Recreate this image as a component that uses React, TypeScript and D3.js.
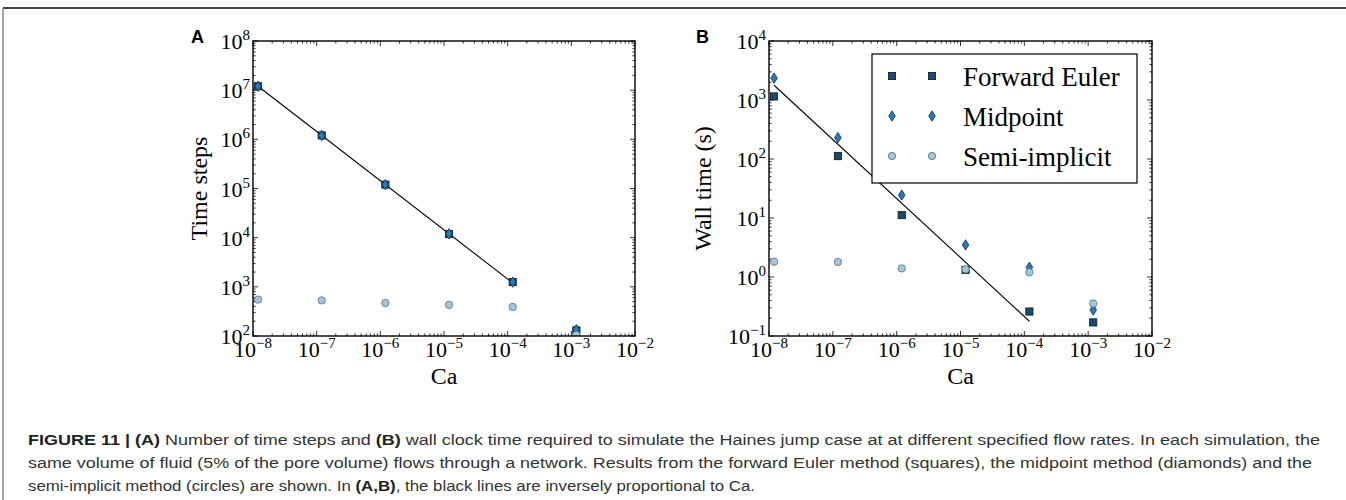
import React from "react";
import * as d3 from "d3";

// ---------------- data ----------------
const caValues = [1.2e-8, 1.2e-7, 1.2e-6, 1.2e-5, 1.2e-4, 1.2e-3];

// Panel A: time steps
const eulerStepsA = [1.2e7, 1.2e6, 1.2e5, 1.18e4, 1.25e3, 130];
const midpointStepsA = [1.2e7, 1.2e6, 1.2e5, 1.2e4, 1.25e3, 135];
const semiStepsA = [550, 530, 470, 430, 390, 105];

// Panel B: wall time (s)
const eulerTimeB = [1150, 112, 11.2, 1.32, 0.26, 0.17];
const midpointTimeB = [2350, 230, 24.5, 3.5, 1.46, 0.275];
const semiTimeB = [1.82, 1.8, 1.4, 1.35, 1.2, 0.355];

// Reference lines (inversely proportional to Ca)
const refLineCa = [1.2e-8, 1.2e-4];
const refLineA = [1.2e7, 1.2e3];
const refLineB = [1780, 0.178];

const xDomain = [1e-8, 1e-2];
const yDomainA = [1e2, 1e8];
const yDomainB = [1e-1, 1e4];

const legendLabels = ["Forward Euler", "Midpoint", "Semi-implicit"];

const captionLines: { text: string; bold: boolean }[][] = [
  [
    { text: "FIGURE 11 | (A)", bold: true },
    { text: " Number of time steps and ", bold: false },
    { text: "(B)", bold: true },
    {
      text:
        " wall clock time required to simulate the Haines jump case at at different specified flow rates. In each simulation, the",
      bold: false,
    },
  ],
  [
    {
      text:
        "same volume of fluid (5% of the pore volume) flows through a network. Results from the forward Euler method (squares), the midpoint method (diamonds) and the",
      bold: false,
    },
  ],
  [
    { text: "semi-implicit method (circles) are shown. In ", bold: false },
    { text: "(A,B)", bold: true },
    { text: ", the black lines are inversely proportional to Ca.", bold: false },
  ],
];

// ---------------- style ----------------
const COL_EULER = "#1b4a6b";
const COL_MID = "#2a7ab8";
const COL_SEMI = "#a3c6df";
const SERIF = "'Liberation Serif', 'Times New Roman', serif";
const SANS = "'Liberation Sans', Arial, sans-serif";

type Marker = "square" | "diamond" | "circle";

function MarkerShape({ kind, x, y }: { kind: Marker; x: number; y: number }) {
  if (kind === "square") {
    return (
      <rect x={x - 3.6} y={y - 3.6} width={7.2} height={7.2} fill={COL_EULER} stroke="#0a1a26" strokeWidth={0.8} />
    );
  }
  if (kind === "diamond") {
    const w = 3.3;
    const h = 5.2;
    return (
      <path
        d={`M${x},${y - h}L${x + w},${y}L${x},${y + h}L${x - w},${y}Z`}
        fill={COL_MID}
        stroke="#0d2e48"
        strokeWidth={0.8}
      />
    );
  }
  return <circle cx={x} cy={y} r={3.7} fill={COL_SEMI} stroke="#5a6f80" strokeWidth={0.8} />;
}

function supLabel(v: number) {
  const e = Math.round(Math.log10(v));
  return e < 0 ? "\u2212" + Math.abs(e) : String(e);
}

interface PanelProps {
  id: string;
  letter: string;
  left: number;
  right: number;
  top: number;
  bottom: number;
  yDomain: number[];
  series: { kind: Marker; values: number[] }[];
  refVals: number[];
  yTitle: string;
  yTitleX: number;
  letterX: number;
  legend?: boolean;
}

function Panel(p: PanelProps) {
  const x = d3.scaleLog().domain(xDomain).range([p.left, p.right]);
  const y = d3.scaleLog().domain(p.yDomain).range([p.bottom, p.top]);
  const isMajor = (v: number) => Math.abs(Math.log10(v) - Math.round(Math.log10(v))) < 1e-6;
  const xt = x.ticks();
  const yt = y.ticks();
  const MAJ = 5;
  const MIN = 2.6;
  const line = d3
    .line<number>()
    .x((_, i) => x(refLineCa[i]))
    .y((d) => y(d));
  const clipId = "clip-" + p.id;
  return (
    <g>
      <defs>
        <clipPath id={clipId}>
          <rect x={p.left} y={p.top} width={p.right - p.left} height={p.bottom - p.top} />
        </clipPath>
      </defs>
      {/* ticks */}
      {xt.map((v, i) => {
        const L = isMajor(v) ? MAJ : MIN;
        const xx = x(v);
        return (
          <g key={"xt" + i} stroke="#000" strokeWidth={0.8}>
            <line x1={xx} x2={xx} y1={p.bottom} y2={p.bottom - L} />
            <line x1={xx} x2={xx} y1={p.top} y2={p.top + L} />
          </g>
        );
      })}
      {yt.map((v, i) => {
        const L = isMajor(v) ? MAJ : MIN;
        const yy = y(v);
        return (
          <g key={"yt" + i} stroke="#000" strokeWidth={0.8}>
            <line x1={p.left} x2={p.left + L} y1={yy} y2={yy} />
            <line x1={p.right} x2={p.right - L} y1={yy} y2={yy} />
          </g>
        );
      })}
      {/* reference line */}
      <path d={line(p.refVals) || ""} fill="none" stroke="#000" strokeWidth={1.1} />
      {/* markers */}
      <g clipPath={`url(#${clipId})`}>
        {p.series.map((s, si) =>
          s.values.map((v, i) => <MarkerShape key={si + "-" + i} kind={s.kind} x={x(caValues[i])} y={y(v)} />)
        )}
      </g>
      {/* frame */}
      <rect
        x={p.left}
        y={p.top}
        width={p.right - p.left}
        height={p.bottom - p.top}
        fill="none"
        stroke="#000"
        strokeWidth={1.4}
      />
      {/* tick labels */}
      {xt.filter(isMajor).map((v, i) => (
        <text key={"xl" + i} x={x(v)} y={p.bottom + 21} textAnchor="middle" fontFamily={SERIF} fontSize={22}>
          10
          <tspan dy={-9} fontSize={15}>
            {supLabel(v)}
          </tspan>
        </text>
      ))}
      {yt.filter(isMajor).map((v, i) => (
        <text key={"yl" + i} x={p.left - 3} y={y(v) + 8} textAnchor="end" fontFamily={SERIF} fontSize={22}>
          10
          <tspan dy={-9} fontSize={15}>
            {supLabel(v)}
          </tspan>
        </text>
      ))}
      {/* axis titles */}
      <text x={(p.left + p.right) / 2} y={384} textAnchor="middle" fontFamily={SERIF} fontSize={24}>
        Ca
      </text>
      <text
        transform={`translate(${p.yTitleX},${(p.top + p.bottom) / 2}) rotate(-90)`}
        textAnchor="middle"
        fontFamily={SERIF}
        fontSize={24}
      >
        {p.yTitle}
      </text>
      <text x={p.letterX} y={43} fontFamily={SANS} fontWeight="bold" fontSize={18}>
        {p.letter}
      </text>
      {p.legend && (
        <g>
          <rect x={872} y={54} width={265} height={129} fill="#fff" stroke="#000" strokeWidth={1.2} />
          {p.series.map((s, i) => {
            const cy = 76 + i * 40;
            return (
              <g key={"lg" + i}>
                <MarkerShape kind={s.kind} x={892} y={cy} />
                <MarkerShape kind={s.kind} x={932} y={cy} />
                <text x={963} y={cy + 9.5} fontFamily={SERIF} fontSize={27}>
                  {legendLabels[i]}
                </text>
              </g>
            );
          })}
        </g>
      )}
    </g>
  );
}

export default function App() {
  const captionBaselines = [445, 468, 491];
  const captionLengths = [1292, 1284, 727];
  return (
    <svg
      width={1346}
      height={500}
      style={{ position: "absolute", left: 0, top: 0, background: "#fff" }}
      xmlns="http://www.w3.org/2000/svg"
    >
      <rect x={0} y={0} width={1346} height={500} fill="#fff" />
      {/* figure frame */}
      <line x1={3} x2={1346} y1={8} y2={8} stroke="#444" strokeWidth={2} />
      <line x1={3} x2={3} y1={8} y2={500} stroke="#8a8a8a" strokeWidth={1.5} />

      <Panel
        id="a"
        letter="A"
        left={253}
        right={635}
        top={41}
        bottom={336}
        yDomain={yDomainA}
        series={[
          { kind: "square", values: eulerStepsA },
          { kind: "diamond", values: midpointStepsA },
          { kind: "circle", values: semiStepsA },
        ]}
        refVals={refLineA}
        yTitle="Time steps"
        yTitleX={207}
        letterX={191}
      />
      <Panel
        id="b"
        letter="B"
        left={769}
        right={1152}
        top={41}
        bottom={336}
        yDomain={yDomainB}
        series={[
          { kind: "square", values: eulerTimeB },
          { kind: "diamond", values: midpointTimeB },
          { kind: "circle", values: semiTimeB },
        ]}
        refVals={refLineB}
        yTitle="Wall time (s)"
        yTitleX={711}
        letterX={696}
        legend
      />

      {/* caption */}
      {captionLines.map((ln, i) => (
        <text
          key={"cap" + i}
          x={28}
          y={captionBaselines[i]}
          fontFamily={SANS}
          fontSize={15.5}
          fill="#333"
          textLength={captionLengths[i]}
          lengthAdjust="spacingAndGlyphs"
        >
          {ln.map((s, j) => (
            <tspan key={j} fontWeight={s.bold ? "bold" : "normal"} fill={s.bold ? "#222" : "#333"}>
              {s.text}
            </tspan>
          ))}
        </text>
      ))}
    </svg>
  );
}
